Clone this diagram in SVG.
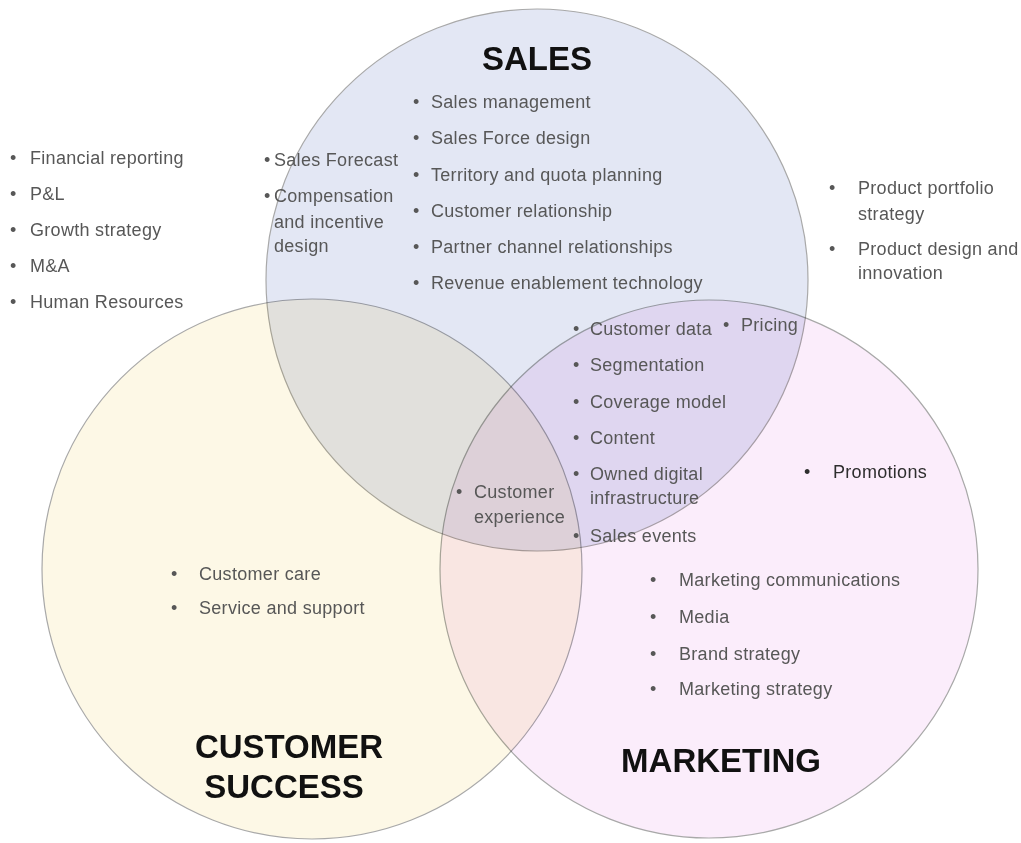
<svg xmlns="http://www.w3.org/2000/svg" width="1021" height="843" viewBox="0 0 1021 843">
  <style>
    .ring { stroke: #a9a9a9; stroke-width: 1.2; mix-blend-mode: multiply; }
    .item { font-family: "Liberation Sans", Arial, sans-serif; font-size: 18px; letter-spacing: 0.3px; fill: #575757; }
    .strong { fill: #2e2e2e; }
    .title { font-family: "Liberation Sans", Arial, sans-serif; font-size: 33px; font-weight: bold; fill: #111111; text-anchor: middle; }
  </style>
  <rect width="1021" height="843" fill="#ffffff"/>

  <!-- circles, blended so the overlaps darken -->
  <g id="circles" style="isolation:isolate">
    <circle class="ring" cx="312" cy="569" r="270" fill="#fdf8e6"/>
    <circle class="ring" cx="709" cy="569" r="269" fill="#fbedfb"/>
    <circle class="ring" cx="537" cy="280" r="271" fill="#e3e7f4"/>
  </g>

  <!-- company-wide functions outside the circles -->
  <g id="corporate" class="item">
    <text x="10" y="164">•</text><text x="30" y="164">Financial reporting</text>
    <text x="10" y="200">•</text><text x="30" y="200">P&amp;L</text>
    <text x="10" y="236">•</text><text x="30" y="236">Growth strategy</text>
    <text x="10" y="272">•</text><text x="30" y="272">M&amp;A</text>
    <text x="10" y="308">•</text><text x="30" y="308">Human Resources</text>
  </g>

  <!-- product functions outside the circles -->
  <g id="product" class="item">
    <text x="829" y="194">•</text><text x="858" y="194">Product portfolio</text>
    <text x="858" y="220">strategy</text>
    <text x="829" y="255">•</text><text x="858" y="255">Product design and</text>
    <text x="858" y="279">innovation</text>
  </g>

  <!-- SALES -->
  <g id="sales">
    <text class="title" x="537" y="70">SALES</text>
    <g class="item">
      <text x="413" y="108">•</text><text x="431" y="108">Sales management</text>
      <text x="413" y="144">•</text><text x="431" y="144">Sales Force design</text>
      <text x="413" y="181">•</text><text x="431" y="181">Territory and quota planning</text>
      <text x="413" y="217">•</text><text x="431" y="217">Customer relationship</text>
      <text x="413" y="253">•</text><text x="431" y="253">Partner channel relationships</text>
      <text x="413" y="289">•</text><text x="431" y="289">Revenue enablement technology</text>
      <text x="264" y="166">•</text><text x="274" y="166">Sales Forecast</text>
      <text x="264" y="202">•</text><text x="274" y="202">Compensation</text>
      <text x="274" y="228">and incentive</text>
      <text x="274" y="252">design</text>
    </g>
  </g>

  <!-- SALES and MARKETING overlap -->
  <g id="sales-marketing" class="item">
    <text x="573" y="335">•</text><text x="590" y="335">Customer data</text>
    <text x="723" y="331">•</text><text x="741" y="331">Pricing</text>
    <text x="573" y="371">•</text><text x="590" y="371">Segmentation</text>
    <text x="573" y="408">•</text><text x="590" y="408">Coverage model</text>
    <text x="573" y="444">•</text><text x="590" y="444">Content</text>
    <text x="573" y="480">•</text><text x="590" y="480">Owned digital</text>
    <text x="590" y="504">infrastructure</text>
    <text x="573" y="542">•</text><text x="590" y="542">Sales events</text>
  </g>

  <!-- all three circles -->
  <g id="shared" class="item">
    <text x="456" y="498">•</text><text x="474" y="498">Customer</text>
    <text x="474" y="523">experience</text>
  </g>

  <!-- MARKETING -->
  <g id="marketing">
    <g class="item">
      <text x="804" y="478" class="strong">•</text><text x="833" y="478" class="strong">Promotions</text>
      <text x="650" y="586">•</text><text x="679" y="586">Marketing communications</text>
      <text x="650" y="623">•</text><text x="679" y="623">Media</text>
      <text x="650" y="660">•</text><text x="679" y="660">Brand strategy</text>
      <text x="650" y="695">•</text><text x="679" y="695">Marketing strategy</text>
    </g>
    <text class="title" x="721" y="772">MARKETING</text>
  </g>

  <!-- CUSTOMER SUCCESS -->
  <g id="customer-success">
    <g class="item">
      <text x="171" y="580">•</text><text x="199" y="580">Customer care</text>
      <text x="171" y="614">•</text><text x="199" y="614">Service and support</text>
    </g>
    <text class="title" x="289" y="758">CUSTOMER</text>
    <text class="title" x="284" y="798">SUCCESS</text>
  </g>
</svg>
